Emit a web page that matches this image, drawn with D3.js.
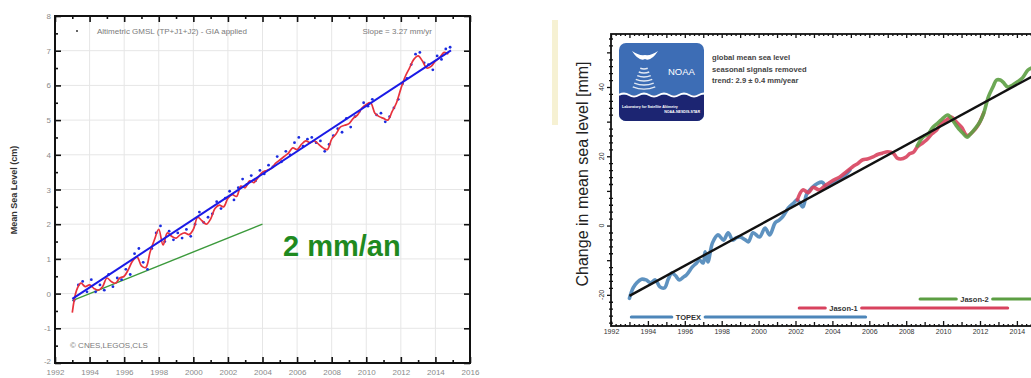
<!DOCTYPE html>
<html>
<head>
<meta charset="utf-8">
<script src="https://cdn.jsdelivr.net/npm/d3@7"></script>
<style>
  html, body { margin: 0; padding: 0; background: #fff; }
  svg { display: block; font-family: "Liberation Sans", Arial, sans-serif; }
</style>
</head>
<body>
<svg id="chart" width="1031" height="378"></svg>
<script>
// ---------- left panel data: CNES/LEGOS altimetric GMSL, cm ----------
const smoothStart = 1993.0;   // quarterly smoothed series (red)
const smoothStep = 0.25;
const gmslSmooth = [
  -0.55, 0.10, 0.30, 0.20, 0.25, 0.15, 0.10, 0.20,
  0.45, 0.35, 0.30, 0.45, 0.50, 0.70, 0.95, 1.05,
  0.80, 0.75, 1.20, 1.55, 1.85, 1.40, 1.75, 1.65,
  1.60, 1.70, 1.75, 1.70, 1.85, 2.20, 2.10, 2.00,
  2.15, 2.45, 2.55, 2.50, 2.75, 2.85, 2.80, 3.10,
  3.05, 3.25, 3.20, 3.35, 3.50, 3.55, 3.60, 3.75,
  3.85, 3.95, 4.05, 4.20, 4.15, 4.30, 4.40, 4.35,
  4.40, 4.30, 4.20, 4.15, 4.45, 4.60, 4.80, 4.85,
  4.90, 5.05, 5.15, 5.35, 5.45, 5.50, 5.20, 5.10,
  5.05, 5.00, 5.25, 5.50, 5.90, 6.25, 6.50, 6.75,
  6.85, 6.70, 6.50, 6.55, 6.70, 6.80, 6.95, 6.90
];
const dotsStart = 1993.1;     // individual cycle values (blue dots)
const gmslDots = [
  -0.20, 0.25, 0.35, 0.05, 0.40, 0.05, 0.25, 0.10,
  0.55, 0.20, 0.45, 0.40, 0.70, 0.55, 1.15, 1.30,
  0.90, 0.70, 1.30, 1.75, 1.95, 1.50, 1.80, 1.55,
  1.75, 1.60, 1.85, 1.65, 2.00, 2.35, 2.05, 2.20,
  2.30, 2.65, 2.45, 2.75, 2.95, 2.70, 3.05, 3.30,
  3.15, 3.40, 3.25, 3.55, 3.45, 3.70, 3.65, 3.95,
  3.80, 4.10, 4.00, 4.35, 4.50, 4.25, 4.45, 4.50,
  4.35, 4.40, 4.10, 4.30, 4.55, 4.75, 4.65, 5.05,
  4.80, 5.10, 5.25, 5.50, 5.40, 5.60, 5.15, 5.20,
  4.95, 5.10, 5.35, 5.60, 6.05, 6.20, 6.60, 6.90,
  6.95, 6.65, 6.60, 6.45, 6.85, 6.75, 7.05, 7.10
];
const slopeYears = [1993.0, 2014.9];
const slopeValues = [-0.15, 7.01];
const refYears = [1993.0, 2004.0];   // 2 mm/yr reference
const refValues = [-0.2, 2.0];
const leftYTicks = [-2, -1, 0, 1, 2, 3, 4, 5, 6, 7, 8];
const leftXTicks = [1992, 1994, 1996, 1998, 2000, 2002, 2004, 2006, 2008, 2010, 2012, 2014, 2016];

// ---------- right panel data: NOAA LSA global mean sea level, mm ----------
const topexYears = [1993.0, 1993.2, 1993.4, 1993.65, 1993.9, 1994.15, 1994.4, 1994.65, 1994.9, 1995.1,
  1995.3, 1995.5, 1995.7, 1995.9, 1996.1, 1996.4, 1996.6, 1996.8, 1997.0, 1997.1,
  1997.25, 1997.5, 1997.8, 1998.1, 1998.35, 1998.6, 1998.8, 1999.0, 1999.3, 1999.45,
  1999.7, 2000.05, 2000.35, 2000.6, 2000.9, 2001.1, 2001.3, 2001.6, 2001.9, 2002.1,
  2002.4, 2002.6, 2002.9, 2003.2, 2003.45, 2003.7, 2004.0, 2004.4, 2004.7, 2004.95];
const topexValues = [-21, -18, -16.5, -15.5, -15.7, -16.5, -15.7, -17.7, -18, -15.5,
  -13.7, -14.5, -15.7, -15, -14.2, -12, -11, -10, -10.8, -7.6,
  -10.5, -5, -2.7, -4.2, -2.1, -4.2, -3.5, -3.3, -4.2, -4.7,
  -2.1, -3.3, -0.7, -2.7, 0.8, 1.5, 2.5, 5, 6.5, 7.4,
  5.4, 9, 11, 12.2, 12.5, 11.1, 12, 13.2, 14.5, 16];
const jason1Years = [2002.1, 2002.4, 2002.7, 2002.95, 2003.3, 2003.6, 2003.9, 2004.2, 2004.4, 2004.75,
  2005.1, 2005.4, 2005.65, 2005.9, 2006.2, 2006.45, 2006.7, 2007.0, 2007.3, 2007.5,
  2007.7, 2008.0, 2008.2, 2008.4, 2008.6, 2008.8, 2009.1, 2009.4, 2009.65, 2009.9,
  2010.2, 2010.45, 2010.7, 2011.0, 2011.3, 2011.6, 2011.9, 2012.2];
const jason1Values = [7.4, 10.3, 9.5, 11, 10.3, 11.5, 12.6, 13.5, 14, 15.5,
  17, 18, 19, 19.2, 19.8, 20.5, 20.9, 21.3, 20.9, 19.5,
  19.2, 19.8, 20.8, 21.2, 22.7, 23.5, 24.7, 26.5, 27.6, 29.5,
  30.5, 31.3, 30, 28.4, 26, 27, 29, 32.5];
const jason2Years = [2008.6, 2008.9, 2009.2, 2009.45, 2009.7, 2009.9, 2010.25, 2010.5, 2010.7, 2010.9,
  2011.1, 2011.3, 2011.45, 2011.8, 2012.0, 2012.2, 2012.45, 2012.7, 2012.9, 2013.1,
  2013.25, 2013.5, 2013.75, 2014.0, 2014.3, 2014.6, 2014.8];
const jason2Values = [23, 25.5, 26.5, 28.4, 29.5, 30.5, 31.9, 30.5, 29, 27.6,
  26.5, 25.5, 26.2, 28.4, 30, 32.4, 37.1, 40, 42, 42,
  41.4, 40, 40.5, 41.4, 42.6, 44.9, 45.5];
const trendYears = [1993.0, 2015.5];
const trendValues = [-20.3, 45.0];
const missions = ["TOPEX", "Jason-1", "Jason-2"];
const missionStart = [1993.1, 2002.2, 2008.75];
const missionEnd = [2005.8, 2013.5, 2016.0];
const missionLabelAt = [1996.2, 2004.6, 2011.7];
const rightYTicks = [-20, 0, 20, 40];
const rightXTicks = [1992, 1994, 1996, 1998, 2000, 2002, 2004, 2006, 2008, 2010, 2012, 2014];

const svg = d3.select("#chart");
const toPts = (xs, ys) => xs.map((x, i) => ({ x, y: ys[i] }));

// =====================================================================
// Left panel
// =====================================================================
const xL = d3.scaleLinear().domain([1992, 2016]).range([55, 470]);
const yL = d3.scaleLinear().domain([-2, 8]).range([363, 16]);
const left = svg.append("g");

// grid
left.append("g").selectAll("line")
  .data(leftXTicks.slice(1, -1))
  .join("line")
  .attr("x1", d => xL(d)).attr("x2", d => xL(d))
  .attr("y1", yL(8)).attr("y2", yL(-2))
  .attr("stroke", "#e6e6e6");
left.append("g").selectAll("line")
  .data(leftYTicks.slice(1, -1))
  .join("line")
  .attr("x1", xL(1992)).attr("x2", xL(2016))
  .attr("y1", d => yL(d)).attr("y2", d => yL(d))
  .attr("stroke", "#e6e6e6");

// axes (ticks pointing inward)
const oddYears = d3.range(1993, 2016, 2);
const halfCm = d3.range(-1.5, 8, 1);
function styleAxis(g) {
  g.select(".domain").remove();
  g.selectAll(".tick line").attr("stroke", "#111").attr("stroke-width", 1.6);
  g.selectAll("text").attr("fill", "#8a8a8a").style("font-size", "8px");
}
left.append("g").attr("transform", `translate(0,${yL(-2)})`)
  .call(d3.axisBottom(xL).tickValues(leftXTicks).tickSize(-6).tickPadding(6).tickFormat(d => String(d)))
  .call(styleAxis);
left.append("g").attr("transform", `translate(0,${yL(-2)})`)
  .call(d3.axisBottom(xL).tickValues(oddYears).tickSize(-3).tickFormat(""))
  .call(styleAxis);
left.append("g").attr("transform", `translate(0,${yL(8)})`)
  .call(d3.axisTop(xL).tickValues(leftXTicks).tickSize(-6).tickFormat(""))
  .call(styleAxis);
left.append("g").attr("transform", `translate(0,${yL(8)})`)
  .call(d3.axisTop(xL).tickValues(oddYears).tickSize(-3).tickFormat(""))
  .call(styleAxis);
left.append("g").attr("transform", `translate(${xL(1992)},0)`)
  .call(d3.axisLeft(yL).tickValues(leftYTicks).tickSize(-6).tickPadding(4).tickFormat(d => String(d)))
  .call(styleAxis)
  .call(g => g.selectAll("text").attr("dy", d => d === -2 ? "0" : "0.32em"));
left.append("g").attr("transform", `translate(${xL(1992)},0)`)
  .call(d3.axisLeft(yL).tickValues(halfCm).tickSize(-3).tickFormat(""))
  .call(styleAxis);
left.append("g").attr("transform", `translate(${xL(2016)},0)`)
  .call(d3.axisRight(yL).tickValues(leftYTicks).tickSize(-6).tickFormat(""))
  .call(styleAxis);

left.append("rect")
  .attr("x", xL(1992)).attr("y", yL(8))
  .attr("width", xL(2016) - xL(1992)).attr("height", yL(-2) - yL(8))
  .attr("fill", "none").attr("stroke", "#111").attr("stroke-width", 2);

const lineL = d3.line().x(d => xL(d.x)).y(d => yL(d.y));

// reference 2 mm/yr
left.append("path")
  .datum(toPts(refYears, refValues))
  .attr("d", lineL).attr("fill", "none")
  .attr("stroke", "#3c9a3c").attr("stroke-width", 1.4);

// cycle dots
const dotYears = gmslDots.map((_, i) => dotsStart + i * smoothStep);
left.append("g").selectAll("circle")
  .data(toPts(dotYears, gmslDots))
  .join("circle")
  .attr("cx", d => xL(d.x)).attr("cy", d => yL(d.y)).attr("r", 1.4)
  .attr("fill", "#1c2de0");

// smoothed series
const smoothYears = gmslSmooth.map((_, i) => smoothStart + i * smoothStep);
left.append("path")
  .datum(toPts(smoothYears, gmslSmooth))
  .attr("d", lineL.curve(d3.curveCatmullRom))
  .attr("fill", "none").attr("stroke", "#e8323c").attr("stroke-width", 1.7);

// trend
left.append("path")
  .datum(toPts(slopeYears, slopeValues))
  .attr("d", d3.line().x(d => xL(d.x)).y(d => yL(d.y)))
  .attr("fill", "none").attr("stroke", "#1a1ae6").attr("stroke-width", 2);

// legend / labels
left.append("circle").attr("cx", 77).attr("cy", 31).attr("r", 1).attr("fill", "#333");
left.append("text").attr("x", 97).attr("y", 34)
  .attr("fill", "#7a7a7a").style("font-size", "8px")
  .text("Altimetric GMSL (TP+J1+J2) - GIA applied");
left.append("text").attr("x", 432).attr("y", 34).attr("text-anchor", "end")
  .attr("fill", "#7a7a7a").style("font-size", "8px")
  .text("Slope = 3.27 mm/yr");
left.append("text").attr("x", 70).attr("y", 348)
  .attr("fill", "#7a7a7a").style("font-size", "8px")
  .text("© CNES,LEGOS,CLS");
left.append("text")
  .attr("transform", "translate(17,190) rotate(-90)")
  .attr("text-anchor", "middle")
  .attr("fill", "#333").style("font-size", "9px").style("font-weight", "bold")
  .text("Mean Sea Level (cm)");
left.append("text").attr("x", 283).attr("y", 256)
  .attr("fill", "#1f8a1f").style("font-size", "29px").style("font-weight", "bold")
  .text("2 mm/an");

// =====================================================================
// Right panel
// =====================================================================
const xR = d3.scaleLinear().domain([1992, 2016]).range([611, 1053.8]);
const yR = d3.scaleLinear().domain([-29, 55.3]).range([326, 34]);
const right = svg.append("g");

// pale marker strip
right.append("rect").attr("x", 552).attr("y", 20).attr("width", 6).attr("height", 105)
  .attr("fill", "#f6f1d3");

const quarterYears = d3.range(1992, 2016.01, 0.25).filter(d => d % 1 !== 0);
const yearTicks = d3.range(1992, 2017, 1);
const minorMm = d3.range(-28, 56, 2).filter(d => d % 10 !== 0);
const tenMm = d3.range(-20, 56, 10);
function styleAxisR(g) {
  g.select(".domain").remove();
  g.selectAll(".tick line").attr("stroke", "#111").attr("stroke-width", 1.3);
  g.selectAll("text").attr("fill", "#333").style("font-size", "7px");
}
right.append("g").attr("transform", `translate(0,${yR(-29)})`)
  .call(d3.axisBottom(xR).tickValues(rightXTicks).tickSize(-5).tickPadding(3).tickFormat(d => String(d)))
  .call(styleAxisR);
right.append("g").attr("transform", `translate(0,${yR(-29)})`)
  .call(d3.axisBottom(xR).tickValues(yearTicks.filter(d => d % 2)).tickSize(-4).tickFormat(""))
  .call(styleAxisR);
right.append("g").attr("transform", `translate(0,${yR(-29)})`)
  .call(d3.axisBottom(xR).tickValues(quarterYears).tickSize(-2).tickFormat(""))
  .call(styleAxisR);
right.append("g").attr("transform", `translate(0,${yR(55.3)})`)
  .call(d3.axisTop(xR).tickValues(yearTicks).tickSize(-4).tickFormat(""))
  .call(styleAxisR);
right.append("g").attr("transform", `translate(0,${yR(55.3)})`)
  .call(d3.axisTop(xR).tickValues(quarterYears).tickSize(-2).tickFormat(""))
  .call(styleAxisR);
right.append("g").attr("transform", `translate(${xR(1992)},0)`)
  .call(d3.axisLeft(yR).tickValues(tenMm).tickSize(4).tickFormat(""))
  .call(styleAxisR);
right.append("g").attr("transform", `translate(${xR(1992)},0)`)
  .call(d3.axisLeft(yR).tickValues(minorMm).tickSize(2).tickFormat(""))
  .call(styleAxisR);
right.append("g").attr("transform", `translate(${xR(1992)},0)`)
  .call(d3.axisRight(yR).tickValues(minorMm).tickSize(2).tickFormat(""))
  .call(styleAxisR);
right.append("g").selectAll("text")
  .data(rightYTicks)
  .join("text")
  .attr("transform", d => `translate(${xR(1992) - 7},${yR(d)}) rotate(-90)`)
  .attr("text-anchor", "middle")
  .attr("fill", "#333").style("font-size", "7px")
  .text(d => String(d));

right.append("rect")
  .attr("x", xR(1992)).attr("y", yR(55.3))
  .attr("width", xR(2016) - xR(1992)).attr("height", yR(-29) - yR(55.3))
  .attr("fill", "none").attr("stroke", "#111").attr("stroke-width", 1.8);

right.append("text")
  .attr("transform", "translate(588,174) rotate(-90)")
  .attr("text-anchor", "middle")
  .attr("fill", "#222").style("font-size", "16px")
  .text("Change in mean sea level [mm]");

const colorR = d3.scaleOrdinal().domain(missions).range(["#4d86b9", "#d8425e", "#5c9e43"]);
const lineR = d3.line().x(d => xR(d.x)).y(d => yR(d.y)).curve(d3.curveCatmullRom);
const series = [
  toPts(topexYears, topexValues),
  toPts(jason1Years, jason1Values),
  toPts(jason2Years, jason2Values)
];
right.append("g").selectAll("path")
  .data(series)
  .join("path")
  .attr("d", lineR)
  .attr("fill", "none")
  .attr("stroke", (d, i) => colorR(missions[i]))
  .attr("stroke-width", 3.6)
  .attr("stroke-linecap", "round")
  .attr("stroke-linejoin", "round")
  .attr("stroke-opacity", 0.9);

right.append("path")
  .datum(toPts(trendYears, trendValues))
  .attr("d", d3.line().x(d => xR(d.x)).y(d => yR(d.y)))
  .attr("fill", "none").attr("stroke", "#111").attr("stroke-width", 2.4);

// mission timeline bars
missions.forEach((m, i) => {
  const yy = yR(-29) - 9 * (i + 1);
  const lbl = right.append("text")
    .attr("x", xR(missionLabelAt[i])).attr("y", yy + 2.5)
    .attr("text-anchor", "middle")
    .attr("fill", "#333").style("font-size", "7.5px").style("font-weight", "bold")
    .text(m);
  const half = lbl.node().getComputedTextLength() / 2 + 4;
  const cx = xR(missionLabelAt[i]);
  [[xR(missionStart[i]), cx - half], [cx + half, xR(missionEnd[i])]].forEach(([a, b]) => {
    right.append("line")
      .attr("x1", a).attr("x2", b).attr("y1", yy).attr("y2", yy)
      .attr("stroke", colorR(m)).attr("stroke-width", 3)
      .attr("stroke-linecap", "round");
  });
});

// NOAA logo
const logo = right.append("g").attr("transform", "translate(619,43)");
logo.append("clipPath").attr("id", "logoClip")
  .append("rect").attr("width", 85).attr("height", 78).attr("rx", 7);
const lg = logo.append("g").attr("clip-path", "url(#logoClip)");
lg.append("rect").attr("width", 85).attr("height", 78).attr("fill", "#3d6db5");
lg.append("rect").attr("y", 52).attr("width", 85).attr("height", 26).attr("fill", "#1c2572");
lg.append("path")
  .attr("d", "M0,52 q5,-3 10,0 t10,0 t10,0 t10,0 t10,0 t10,0 t10,0 t10,0 t10,0")
  .attr("fill", "none").attr("stroke", "#fff").attr("stroke-width", 2);
lg.append("path")
  .attr("d", "M13,8 Q20,19 26,16 Q32,19 39,8 Q32,13 26,12 Q20,13 13,8Z")
  .attr("fill", "#fff");
[10, 14, 18, 22, 26, 30].forEach(r => {
  const a = 22 * Math.PI / 180;
  lg.append("path")
    .attr("d", `M${25 - r * Math.sin(a)},${16 + r * Math.cos(a)} A${r},${r} 0 0 0 ${25 + r * Math.sin(a)},${16 + r * Math.cos(a)}`)
    .attr("fill", "none").attr("stroke", "#fff").attr("stroke-width", 1.4).attr("stroke-opacity", 0.85);
});
lg.append("text").attr("x", 49).attr("y", 32).attr("fill", "#fff")
  .style("font-size", "9.5px").text("NOAA");
lg.append("text").attr("x", 3).attr("y", 65).attr("fill", "#fff")
  .style("font-size", "3.6px").style("font-weight", "bold").text("Laboratory for Satellite Altimetry");
lg.append("text").attr("x", 81).attr("y", 69.5).attr("text-anchor", "end").attr("fill", "#fff")
  .style("font-size", "3.6px").style("font-weight", "bold").text("NOAA-NESDIS-STAR");

const info = ["global mean sea level", "seasonal signals removed", "trend:  2.9 ± 0.4 mm/year"];
right.append("g").selectAll("text")
  .data(info)
  .join("text")
  .attr("x", 712).attr("y", (d, i) => 60 + i * 11.5)
  .attr("fill", "#444").style("font-size", "7.6px").style("font-weight", "bold")
  .text(d => d);
</script>
</body>
</html>
